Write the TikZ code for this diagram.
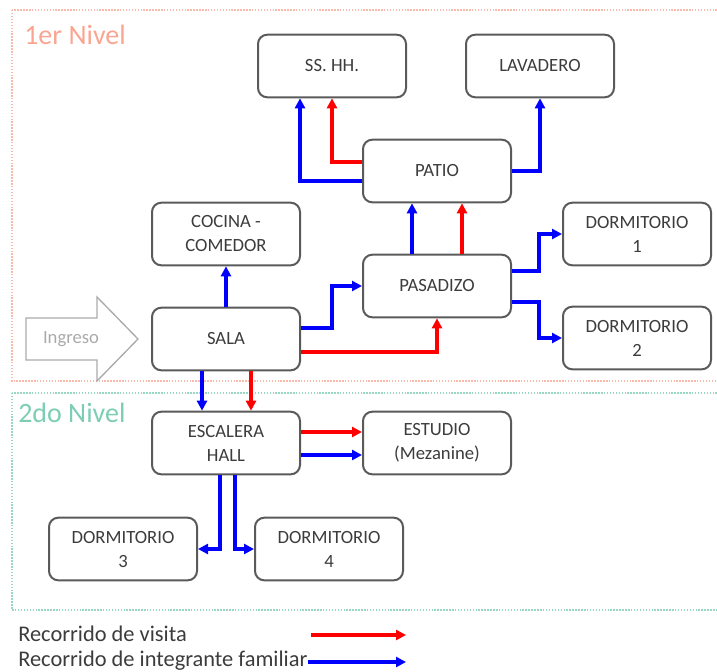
\documentclass[tikz,border=0pt]{standalone}
\usepackage{fontspec}
\setmainfont{Carlito}
\usetikzlibrary{arrows.meta,calc}
\definecolor{nivelA}{RGB}{250,165,145}
\definecolor{nivelB}{RGB}{125,205,180}
\definecolor{borde}{RGB}{90,90,90}
\definecolor{texto}{RGB}{60,60,60}
\definecolor{gris}{RGB}{170,170,170}

\begin{document}
\begin{tikzpicture}[x=0.75pt, y=-0.75pt,
    room/.style={draw=borde, line width=1.5pt, rounded corners=7pt, fill=white, text=texto,
        minimum width=111pt, minimum height=47pt, align=center, font=\fontsize{14}{18}\selectfont},
    visita/.style={draw=red, line width=2.6pt, -{Triangle[length=7.5pt,width=7.5pt]}},
    familia/.style={visita, draw=blue},
    nivel/.style={dash pattern=on 1.1pt off 1.1pt, line width=1pt}]
    \clip (0,0) rectangle (717,671);
    % niveles
    \draw[nivel, nivelA!75] (12,10) rectangle (740,381);
    \draw[nivel, nivelB!80] (12,393) rectangle (740,610);
    \node[anchor=west, inner sep=0, text=nivelA, font=\fontsize{21}{21}\selectfont] (nivel1) at (24,35) {1er Nivel};
    \node[anchor=west, inner sep=0, text=nivelB, font=\fontsize{21}{21}\selectfont] (nivel2) at (18,413) {2do Nivel};
    % ingreso
    \draw[gris, line width=1pt] (26,318) -- (97,318) -- (97,297) -- (138,339) -- (97,381) -- (97,360) -- (26,360) -- cycle;
    \node[text=gris, font=\fontsize{14}{18}\selectfont] (ingreso) at (71,339) {Ingreso};
    % ambientes
    \node[room] (sshh) at (332,66) {SS. HH.};
    \node[room] (lavadero) at (540,66) {LAVADERO};
    \node[room] (patio) at (437,171) {PATIO};
    \node[room] (cocina) at (226,234) {COCINA -\\COMEDOR};
    \node[room] (dorm1) at (637,234) {DORMITORIO\\1};
    \node[room] (pasadizo) at (437,286) {PASADIZO};
    \node[room] (dorm2) at (637,338) {DORMITORIO\\2};
    \node[room] (sala) at (226,339) {SALA};
    \node[room] (escalera) at (226,443) {ESCALERA\\HALL};
    \node[room] (estudio) at (437,443) {ESTUDIO\\(Mezanine)};
    \node[room] (dorm3) at (123,549) {DORMITORIO\\3};
    \node[room] (dorm4) at (329,549) {DORMITORIO\\4};
    % recorridos
    \draw[familia] (sala.north) -- (cocina.south);
    \draw[familia] ($(sala.east)+(0,-11)$) -- ++(31,0) |- (pasadizo.west);
    \draw[visita] ($(sala.east)+(0,13)$) -| (pasadizo.south);
    \draw[familia] ($(pasadizo.north)+(-25,0)$) -- ($(patio.south)+(-25,0)$);
    \draw[visita] ($(pasadizo.north)+(25,0)$) -- ($(patio.south)+(25,0)$);
    \draw[familia] ($(patio.west)+(0,10)$) -| ($(sshh.south)+(-32,0)$);
    \draw[visita] ($(patio.west)+(0,-9)$) -| (sshh.south);
    \draw[familia] (patio.east) -| (lavadero.south);
    \draw[familia] ($(pasadizo.east)+(0,-15)$) -- ++(27,0) |- (dorm1.west);
    \draw[familia] ($(pasadizo.east)+(0,16)$) -- ++(27,0) |- (dorm2.west);
    \draw[familia] ($(sala.south)+(-24,0)$) -- ($(escalera.north)+(-24,0)$);
    \draw[visita] ($(sala.south)+(25,0)$) -- ($(escalera.north)+(25,0)$);
    \draw[visita] ($(escalera.east)+(0,-11)$) -- ($(estudio.west)+(0,-11)$);
    \draw[familia] ($(escalera.east)+(0,12)$) -- ($(estudio.west)+(0,12)$);
    \draw[familia] ($(escalera.south)+(-6,0)$) |- (dorm3.east);
    \draw[familia] ($(escalera.south)+(9,0)$) |- (dorm4.west);
    % leyenda
    \node[anchor=west, inner sep=0, text=texto, font=\fontsize{16.8}{18}\selectfont] (leyvisita) at (18,634) {Recorrido de visita};
    \node[anchor=west, inner sep=0, text=texto, font=\fontsize{16.8}{18}\selectfont] (leyfamilia) at (18,661) {Recorrido de integrante familiar};
    \coordinate (v1) at (311,635);
    \coordinate (v2) at (406,635);
    \coordinate (f1) at (308,662);
    \coordinate (f2) at (406,662);
    \draw[visita] (v1) -- (v2);
    \draw[familia] (f1) -- (f2);
\end{tikzpicture}
\end{document}
